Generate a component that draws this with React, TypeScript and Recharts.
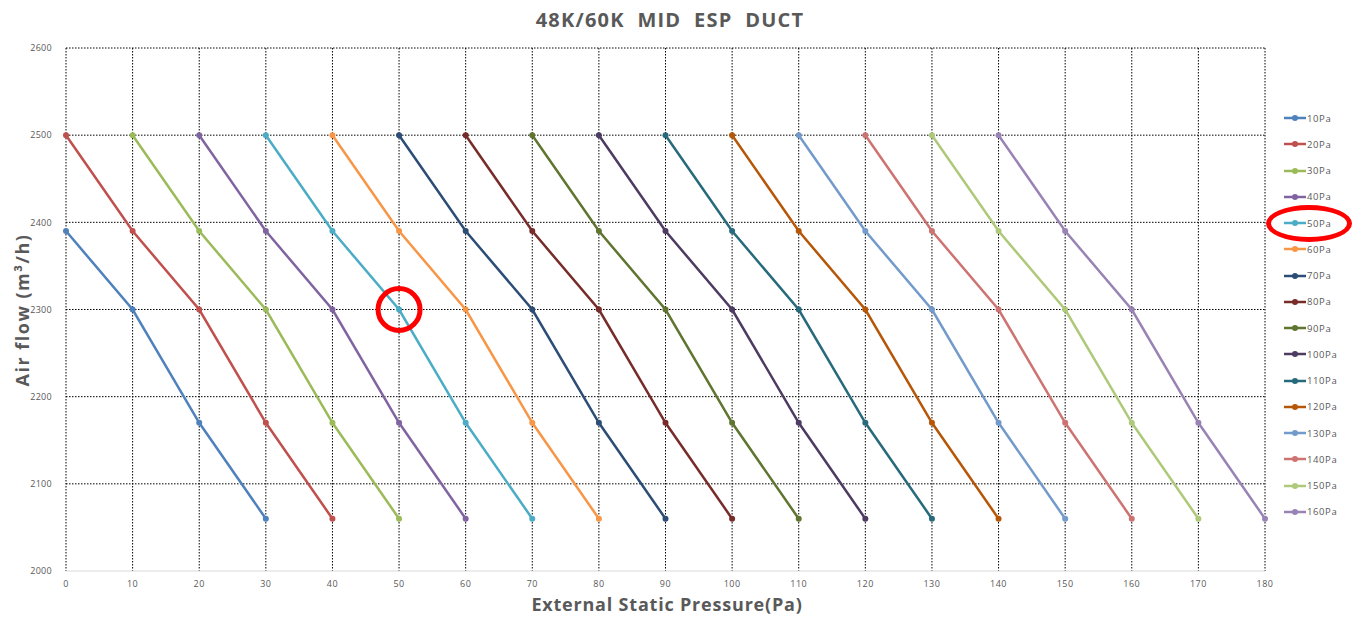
import { LineChart, Line, XAxis, YAxis, CartesianGrid, Legend, ReferenceDot } from "recharts";

const pressureTicks = [0, 10, 20, 30, 40, 50, 60, 70, 80, 90, 100, 110, 120, 130, 140, 150, 160, 170, 180];
const airflowTicks = [2000, 2100, 2200, 2300, 2400, 2500, 2600];
const gridRows = [2100, 2200, 2300, 2400, 2500, 2600];

// [pressure Pa, airflow m3/h]
const pa10 = [[0, 2390], [10, 2300], [20, 2170], [30, 2060]];
const pa20 = [[0, 2500], [10, 2390], [20, 2300], [30, 2170], [40, 2060]];
const pa30 = [[10, 2500], [20, 2390], [30, 2300], [40, 2170], [50, 2060]];
const pa40 = [[20, 2500], [30, 2390], [40, 2300], [50, 2170], [60, 2060]];
const pa50 = [[30, 2500], [40, 2390], [50, 2300], [60, 2170], [70, 2060]];
const pa60 = [[40, 2500], [50, 2390], [60, 2300], [70, 2170], [80, 2060]];
const pa70 = [[50, 2500], [60, 2390], [70, 2300], [80, 2170], [90, 2060]];
const pa80 = [[60, 2500], [70, 2390], [80, 2300], [90, 2170], [100, 2060]];
const pa90 = [[70, 2500], [80, 2390], [90, 2300], [100, 2170], [110, 2060]];
const pa100 = [[80, 2500], [90, 2390], [100, 2300], [110, 2170], [120, 2060]];
const pa110 = [[90, 2500], [100, 2390], [110, 2300], [120, 2170], [130, 2060]];
const pa120 = [[100, 2500], [110, 2390], [120, 2300], [130, 2170], [140, 2060]];
const pa130 = [[110, 2500], [120, 2390], [130, 2300], [140, 2170], [150, 2060]];
const pa140 = [[120, 2500], [130, 2390], [140, 2300], [150, 2170], [160, 2060]];
const pa150 = [[130, 2500], [140, 2390], [150, 2300], [160, 2170], [170, 2060]];
const pa160 = [[140, 2500], [150, 2390], [160, 2300], [170, 2170], [180, 2060]];

const seriesNames = ["10Pa", "20Pa", "30Pa", "40Pa", "50Pa", "60Pa", "70Pa", "80Pa",
  "90Pa", "100Pa", "110Pa", "120Pa", "130Pa", "140Pa", "150Pa", "160Pa"];
const seriesPoints = [pa10, pa20, pa30, pa40, pa50, pa60, pa70, pa80,
  pa90, pa100, pa110, pa120, pa130, pa140, pa150, pa160];

const COLORS = ["#4F81BD", "#C0504D", "#9BBB59", "#8064A2", "#4BACC6", "#F79646", "#2C4D75", "#772C2A",
  "#5F7530", "#4D3B62", "#276A7C", "#B65708", "#729ACA", "#CD7371", "#AFC97A", "#9983B5"];

const FONT = "'Open Sans', 'Noto Sans', sans-serif";
const GREY = "#595959";

function LegendList() {
  return (
    <div style={{ fontFamily: FONT, fontSize: 9.5, color: GREY, letterSpacing: 0.6 }}>
      {seriesNames.map((name, i) => (
        <div key={name} style={{ display: "flex", alignItems: "center", height: 26.25 }}>
          <svg width={22} height={8} style={{ marginRight: 1 }}>
            <line x1={0} y1={4} x2={22} y2={4} stroke={COLORS[i]} strokeWidth={2.5} />
            <circle cx={11} cy={4} r={3} fill={COLORS[i]} />
          </svg>
          <span>{name}</span>
        </div>
      ))}
    </div>
  );
}

export default function App() {
  return (
    <div style={{ position: "absolute", left: 0, top: 0, width: 1354, height: 622, background: "#fff" }}>
      <div style={{ position: "absolute", left: 0, top: 6, width: 1340, textAlign: "center", fontFamily: FONT, fontWeight: 700, fontSize: 20, letterSpacing: 1.2, color: GREY, whiteSpace: "pre" }}>
        {"48K/60K  MID  ESP  DUCT"}
      </div>
      <LineChart width={1354} height={622} margin={{ top: 48, right: 89, bottom: 21, left: 16 }}>
        <CartesianGrid stroke="#000" strokeDasharray="1.5 1.5" strokeWidth={1} horizontalValues={gridRows} verticalValues={pressureTicks} />
        <XAxis
          type="number"
          dataKey="x"
          domain={[0, 180]}
          ticks={pressureTicks}
          interval={0}
          height={30}
          axisLine={{ stroke: "#d9d9d9", strokeWidth: 1 }}
          tickLine={false}
          tick={{ fontSize: 9, fill: GREY, fontFamily: FONT, letterSpacing: 0.5 }}
          tickMargin={4}
        />
        <YAxis
          type="number"
          dataKey="y"
          domain={[2000, 2600]}
          ticks={airflowTicks}
          interval={0}
          width={50}
          axisLine={false}
          tickLine={false}
          tick={{ fontSize: 9, fill: GREY, fontFamily: FONT, letterSpacing: 0.3 }}
          tickMargin={8}
        />
        {seriesPoints.map((pts, i) => (
          <Line
            key={seriesNames[i]}
            name={seriesNames[i]}
            data={pts.map(([x, y]) => ({ x, y }))}
            dataKey="y"
            stroke={COLORS[i]}
            strokeWidth={2.5}
            dot={{ r: 3, fill: COLORS[i], stroke: COLORS[i], strokeWidth: 0 }}
            activeDot={false}
            isAnimationActive={false}
          />
        ))}
        <ReferenceDot x={50} y={2300} r={21} fill="none" stroke="#FF0000" strokeWidth={5} />
        <Legend
          layout="vertical"
          align="center"
          verticalAlign="middle"
          content={() => <LegendList />}
          wrapperStyle={{ left: 1284, top: 105, width: 70 }}
        />
      </LineChart>
      <div style={{ position: "absolute", left: 0, top: 592, width: 1334, textAlign: "center", fontFamily: FONT, fontWeight: 700, fontSize: 18, letterSpacing: 0.8, color: GREY }}>
        External Static Pressure(Pa)
      </div>
      <div style={{ position: "absolute", left: 22, top: 310, transform: "translate(-50%, -50%) rotate(-90deg)", fontFamily: FONT, fontWeight: 700, fontSize: 18, letterSpacing: 1.5, color: GREY, whiteSpace: "nowrap" }}>
        Air flow (m³/h)
      </div>
      <div style={{ position: "absolute", left: 1266, top: 205, width: 76, height: 27, border: "5px solid #FF0000", borderRadius: "50%" }} />
    </div>
  );
}
